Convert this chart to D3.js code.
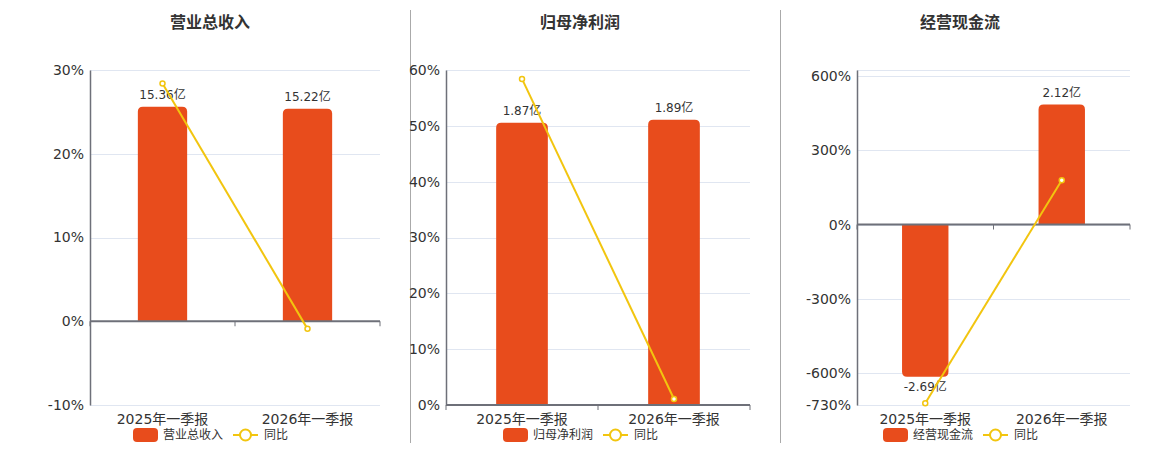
<!DOCTYPE html>
<html>
<head>
<meta charset="utf-8">
<script src="https://cdn.jsdelivr.net/npm/d3@7/dist/d3.min.js"></script>
<style>
  body { margin: 0; background: #fff; }
  svg { font-family: "DejaVu Sans", "Noto Sans CJK SC", sans-serif; }
</style>
</head>
<body>
<div id="chart"></div>
<script>
const categories = ["2025年一季报", "2026年一季报"];
const panelTitles = ["营业总收入", "归母净利润", "经营现金流"];
const yoyName = "同比";

const revenueValues = [15.36, 15.22];
const revenueYoY = [28.4, -0.91];
const revenueTicks = [-10, 0, 10, 20, 30];

const profitValues = [1.87, 1.89];
const profitYoY = [58.4, 1.07];
const profitTicks = [0, 10, 20, 30, 40, 50, 60];

const cashValues = [-2.69, 2.12];
const cashYoY = [-723, 178.8];
const cashTicks = [-730, -600, -300, 0, 300, 600];

const barColor = "#e84c1c";
const lineColor = "#f2c50f";

const width = 1160, height = 450;
const svg = d3.select("#chart").append("svg")
    .attr("width", width)
    .attr("height", height);

// layout per panel
const panels = [
    { title: panelTitles[0], bars: revenueValues, yoy: revenueYoY, ticks: revenueTicks,
      left: 90, right: 380, top: 70, bottom: 405, pct: [-10, 30], barDomain: [-6, 18], cx: 210 },
    { title: panelTitles[1], bars: profitValues, yoy: profitYoY, ticks: profitTicks,
      left: 446, right: 750, top: 70, bottom: 405, pct: [0, 60], barDomain: [0, 2.22], cx: 580 },
    { title: panelTitles[2], bars: cashValues, yoy: cashYoY, ticks: cashTicks,
      left: 857, right: 1130, top: 70, bottom: 405, pct: [-730, 625], barDomain: [-3.19, 2.73], cx: 960 }
];

// separators
[410.5, 780.5].forEach(x => {
    svg.append("line")
        .attr("x1", x).attr("x2", x)
        .attr("y1", 10).attr("y2", 443)
        .attr("stroke", "#aaa")
        .attr("stroke-width", 1);
});

function barPath(x0, w, yTop, yBase, r) {
    const h = Math.abs(yBase - yTop);
    r = Math.min(r, h, w / 2);
    if (yTop <= yBase) {
        // positive bar, rounded top
        return `M${x0},${yBase}V${yTop + r}Q${x0},${yTop} ${x0 + r},${yTop}H${x0 + w - r}Q${x0 + w},${yTop} ${x0 + w},${yTop + r}V${yBase}Z`;
    }
    // negative bar, rounded bottom
    return `M${x0},${yBase}V${yTop - r}Q${x0},${yTop} ${x0 + r},${yTop}H${x0 + w - r}Q${x0 + w},${yTop} ${x0 + w},${yTop - r}V${yBase}Z`;
}

panels.forEach(p => {
    const g = svg.append("g");

    const x = d3.scaleBand()
        .domain(categories)
        .range([p.left, p.right])
        .padding(0);

    const y = d3.scaleLinear().domain(p.pct).range([p.bottom, p.top]);
    const yBar = d3.scaleLinear().domain(p.barDomain).range([p.bottom, p.top]);

    // title
    g.append("text")
        .attr("x", p.cx)
        .attr("y", 23)
        .attr("text-anchor", "middle")
        .attr("dominant-baseline", "middle")
        .attr("font-size", "16px")
        .attr("font-weight", "bold")
        .attr("fill", "#333")
        .text(p.title);

    // grid
    const gridVals = Array.from(new Set([...p.ticks, ...p.pct]));
    g.selectAll("line.grid")
        .data(gridVals)
        .enter()
        .append("line")
        .attr("class", "grid")
        .attr("x1", p.left).attr("x2", p.right)
        .attr("y1", d => Math.round(y(d)) + 0.5)
        .attr("y2", d => Math.round(y(d)) + 0.5)
        .attr("stroke", "#e0e6f1");

    // y axis
    const yAxis = g.append("g")
        .attr("transform", `translate(${p.left},0)`)
        .call(d3.axisLeft(y)
            .tickValues(p.ticks)
            .tickSize(0)
            .tickPadding(6)
            .tickFormat(d => d + "%"));
    yAxis.select(".domain").attr("stroke", "#6e7079").attr("stroke-width", 1.5);
    yAxis.selectAll("text")
        .attr("fill", "#333")
        .attr("font-size", "14px")
        .attr("font-family", "DejaVu Sans, Noto Sans CJK SC, sans-serif");

    // bars
    const bw = x.bandwidth() * 0.34;
    const y0 = yBar(0);
    g.selectAll("path.bar")
        .data(p.bars)
        .enter()
        .append("path")
        .attr("class", "bar")
        .attr("d", (d, i) => barPath(x(categories[i]) + (x.bandwidth() - bw) / 2, bw, yBar(d), y0, 5))
        .attr("fill", barColor);

    // zero axis line + ticks
    const zy = y(0);
    g.append("line")
        .attr("x1", p.left).attr("x2", p.right)
        .attr("y1", zy).attr("y2", zy)
        .attr("stroke", "#6e7079")
        .attr("stroke-width", 2);
    const tickXs = [...categories.map(c => x(c)), p.right];
    g.selectAll("line.xtick")
        .data(tickXs)
        .enter()
        .append("line")
        .attr("class", "xtick")
        .attr("x1", d => d).attr("x2", d => d)
        .attr("y1", zy).attr("y2", zy + 5)
        .attr("stroke", "#6e7079");

    // category labels
    g.selectAll("text.cat")
        .data(categories)
        .enter()
        .append("text")
        .attr("class", "cat")
        .attr("x", d => x(d) + x.bandwidth() / 2)
        .attr("y", p.bottom + 15)
        .attr("text-anchor", "middle")
        .attr("dominant-baseline", "middle")
        .attr("font-size", "14px")
        .attr("fill", "#333")
        .text(d => d);

    // bar labels
    g.selectAll("text.val")
        .data(p.bars)
        .enter()
        .append("text")
        .attr("class", "val")
        .attr("x", (d, i) => x(categories[i]) + x.bandwidth() / 2)
        .attr("y", d => d >= 0 ? yBar(d) - 11 : yBar(d) + 11)
        .attr("text-anchor", "middle")
        .attr("dominant-baseline", "middle")
        .attr("font-size", "12px")
        .attr("fill", "#333")
        .text(d => d.toFixed(2) + "亿");

    // yoy line
    const line = d3.line()
        .x((d, i) => x(categories[i]) + x.bandwidth() / 2)
        .y(d => y(d));
    g.append("path")
        .datum(p.yoy)
        .attr("d", line)
        .attr("fill", "none")
        .attr("stroke", lineColor)
        .attr("stroke-width", 2);
    g.selectAll("circle.pt")
        .data(p.yoy)
        .enter()
        .append("circle")
        .attr("class", "pt")
        .attr("cx", (d, i) => x(categories[i]) + x.bandwidth() / 2)
        .attr("cy", d => y(d))
        .attr("r", 2.5)
        .attr("fill", "#fff")
        .attr("stroke", lineColor)
        .attr("stroke-width", 1.5);

    // legend
    const lg = g.append("g").attr("transform", `translate(${p.cx - 77},435)`);
    lg.append("rect")
        .attr("x", 0).attr("y", -7)
        .attr("width", 25).attr("height", 14)
        .attr("rx", 4)
        .attr("fill", barColor);
    lg.append("text")
        .attr("x", 30).attr("y", 0)
        .attr("dominant-baseline", "middle")
        .attr("font-size", "12px")
        .attr("fill", "#333")
        .text(p.title);
    lg.append("line")
        .attr("x1", 100).attr("x2", 125)
        .attr("y1", 0).attr("y2", 0)
        .attr("stroke", lineColor)
        .attr("stroke-width", 2);
    lg.append("circle")
        .attr("cx", 112.5).attr("cy", 0)
        .attr("r", 5.5)
        .attr("fill", "#fff")
        .attr("stroke", lineColor)
        .attr("stroke-width", 2);
    lg.append("text")
        .attr("x", 131).attr("y", 0)
        .attr("dominant-baseline", "middle")
        .attr("font-size", "12px")
        .attr("fill", "#333")
        .text(yoyName);
});
</script>
</body>
</html>
